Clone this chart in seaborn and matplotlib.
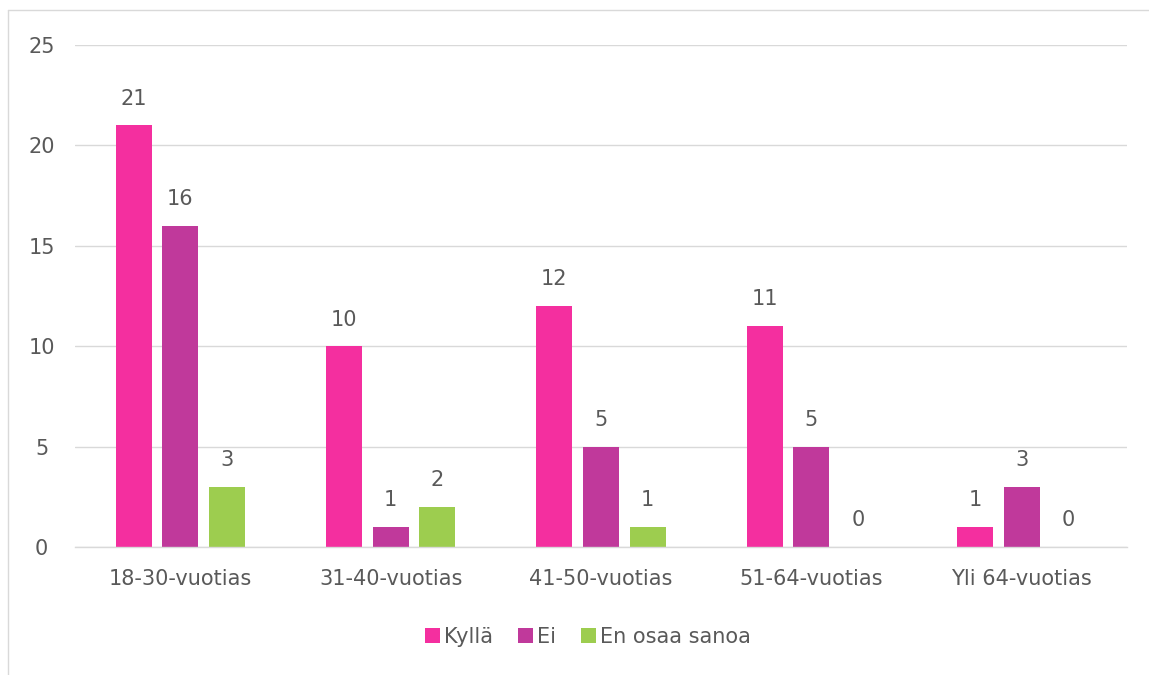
import matplotlib
matplotlib.use("Agg")
import matplotlib.pyplot as plt
import seaborn as sns
import pandas as pd
from matplotlib.lines import Line2D
from matplotlib.patches import Patch

categories = ["18-30-vuotias", "31-40-vuotias", "41-50-vuotias", "51-64-vuotias", "Yli 64-vuotias"]
series_names = ["Kyllä", "Ei", "En osaa sanoa"]
kylla = [21, 10, 12, 11, 1]
ei = [16, 1, 5, 5, 3]
eos = [3, 2, 1, 0, 0]
colors = ["#F42F9F", "#C0399B", "#9DCD4F"]
yticks = [0, 5, 10, 15, 20, 25]

rows = []
for name, vals in zip(series_names, [kylla, ei, eos]):
    for c, v in zip(categories, vals):
        rows.append({"cat": c, "series": name, "value": v})
df = pd.DataFrame(rows)

sns.set_theme(style="white")
plt.rcParams['font.family'] = ['DejaVu Sans']
txt = "#595959"
fs = 15

fig = plt.figure(figsize=(11.49, 6.75), dpi=100)
ax = fig.add_axes([75/1149, 128/675, 1052/1149, 502/675])

sns.barplot(data=df, x="cat", y="value", hue="series", order=categories,
            hue_order=series_names, palette=colors, width=0.664, gap=0.226,
            ax=ax, legend=False, saturation=1, edgecolor="none")

ax.set_ylim(0, 25)
ax.set_xlim(-0.5, len(categories) - 0.5)
ax.set_yticks(yticks)
ax.yaxis.grid(True, color="#D9D9D9", linewidth=1)
ax.set_axisbelow(True)
for s in ["top", "right", "left"]:
    ax.spines[s].set_visible(False)
ax.spines["bottom"].set_color("#D9D9D9")
ax.spines["bottom"].set_linewidth(1)
ax.set_xlabel("")
ax.set_ylabel("")
ax.tick_params(axis="both", length=0, colors=txt, labelsize=fs)
ax.tick_params(axis="x", pad=16)
for lbl in ax.get_yticklabels():
    lbl.set_horizontalalignment("center")
ax.tick_params(axis="y", pad=24)

for cont in ax.containers:
    ax.bar_label(cont, padding=12, color=txt, fontsize=fs)

handles = [Patch(facecolor=c, edgecolor="none") for c in colors]
fig.legend(handles, series_names, loc="center", bbox_to_anchor=(588/1149, 1 - 637/675),
           ncol=3, frameon=False, fontsize=fs, handlelength=0.7, handleheight=0.7,
           handletextpad=0.2, columnspacing=1.2, labelcolor=txt)

fig.add_artist(Line2D([8/1149, 8/1149], [0, 1 - 10/675], transform=fig.transFigure, color="#D9D9D9", lw=1))
fig.add_artist(Line2D([8/1149, 1], [1 - 10/675, 1 - 10/675], transform=fig.transFigure, color="#D9D9D9", lw=1))

fig.savefig("out.png", dpi=100)
